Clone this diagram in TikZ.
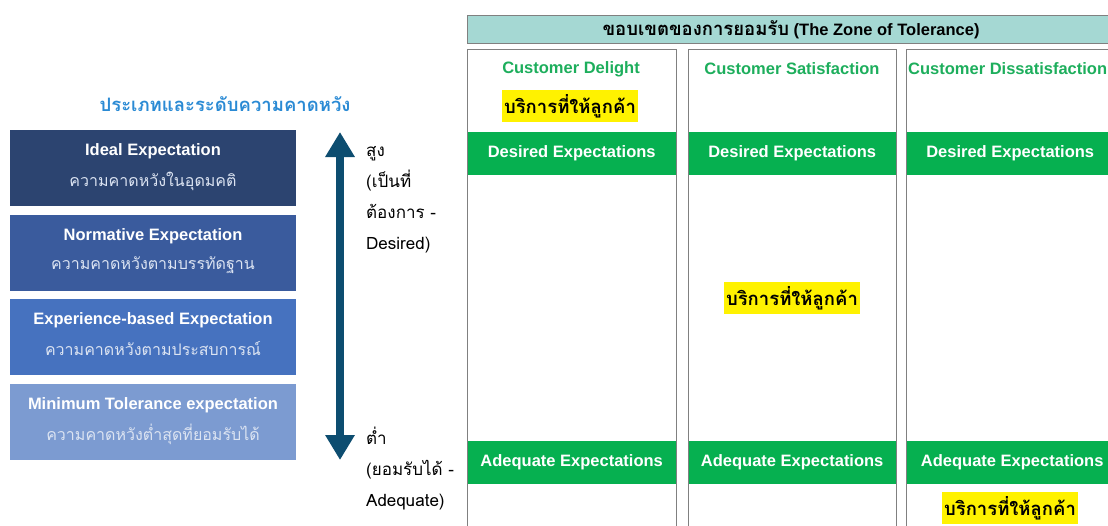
\documentclass[tikz,border=0pt]{standalone}
\usepackage{fontspec}
\setmainfont{Liberation Sans}
\newfontfamily\thai[Script=Thai]{Loma}
\usetikzlibrary{arrows.meta}
\definecolor{ttlblue}{HTML}{2A8AD4}
\definecolor{bxa}{HTML}{2C4470}
\definecolor{bxb}{HTML}{3A5B9D}
\definecolor{bxc}{HTML}{4672BF}
\definecolor{bxd}{HTML}{7C9BD1}
\definecolor{subtxt}{HTML}{DCE4F2}
\definecolor{arrowc}{HTML}{0D4D70}
\definecolor{hdrfill}{HTML}{A5D8D3}
\definecolor{gborder}{HTML}{808080}
\definecolor{gband}{HTML}{06B050}
\definecolor{ghead}{HTML}{1DAE5C}
\tikzset{
  lvbox/.style={minimum width=286pt, minimum height=76pt, inner sep=0pt, anchor=north west},
  lvhead/.style={font=\fontsize{16.5}{18}\selectfont\bfseries, text=white, inner sep=0pt},
  lvsub/.style={font=\thai\fontsize{16}{18}\selectfont, text=subtxt, inner sep=0pt},
  lvl/.style={font=\thai\fontsize{17}{31}\selectfont, align=left, anchor=base west, inner sep=0pt, text=black},
  colbox/.style={draw=gborder, line width=1.3pt, minimum width=#1, minimum height=500pt, inner sep=0pt, anchor=north west},
  band/.style={fill=gband, minimum width=#1, minimum height=43pt, inner sep=0pt, anchor=north west, text=white, font=\fontsize{16.5}{18}\selectfont\bfseries},
  colhead/.style={text=ghead, font=\fontsize{16.5}{18}\selectfont\bfseries, inner sep=0pt},
  svc/.style={fill=yellow, font=\thai\fontsize{18.5}{21}\selectfont\bfseries, inner xsep=2pt, inner ysep=4pt, text=black},
}
\begin{document}
\begin{tikzpicture}[x=1pt,y=-1pt]
\useasboundingbox (0,0) rectangle (1108,525);
\clip (0,0) rectangle (1108,525);
% left title
\node[font=\thai\fontsize{18.5}{21}\selectfont\bfseries, text=ttlblue, inner sep=0pt] (ttl) at (225,104) {ประเภทและระดับความคาดหวัง};
% left boxes
\node[lvbox, fill=bxa] (b1) at (10,130) {};
\node[lvbox, fill=bxb] (b2) at (10,215) {};
\node[lvbox, fill=bxc] (b3) at (10,299) {};
\node[lvbox, fill=bxd] (b4) at (10,384) {};
\node[lvhead] (b1h) at (153,151) {Ideal Expectation};
\node[lvsub]  (b1s) at (153,181) {ความคาดหวังในอุดมคติ};
\node[lvhead] (b2h) at (153,236) {Normative Expectation};
\node[lvsub]  (b2s) at (153,265) {ความคาดหวังตามบรรทัดฐาน};
\node[lvhead] (b3h) at (153,320) {Experience-based Expectation};
\node[lvsub]  (b3s) at (153,349) {ความคาดหวังตามประสบการณ์};
\node[lvhead] (b4h) at (153,405) {Minimum Tolerance expectation};
\node[lvsub]  (b4s) at (153,434) {ความคาดหวังต่ำสุดที่ยอมรับได้};
% arrow
\coordinate (atop) at (340,132);
\coordinate (abot) at (340,460);
\draw[arrowc, line width=7.5pt, {Triangle[width=28pt,length=25pt]}-{Triangle[width=28pt,length=25pt]}] (atop) -- (abot);
\node[lvl] (hi) at (366,249) {สูง\\(เป็นที่\\ต้องการ -\\Desired)};
\node[lvl] (lo) at (366,506) {ต่ำ\\(ยอมรับได้ -\\Adequate)};
% header bar
\node[draw=gborder, line width=1.3pt, fill=hdrfill, minimum width=660pt, minimum height=28pt, inner sep=0pt, anchor=north west] (hdr) at (467,15) {};
\node[font=\fontsize{16.5}{18}\selectfont\bfseries, inner sep=0pt] (hdrt) at (791,30) {{\thai\fontsize{18.5}{20}\selectfont ขอบเขตของการยอมรับ} (The Zone of Tolerance)};
% bands
\node[band=209pt] (d1) at (467,132) {Desired Expectations};
\node[band=208pt] (d2) at (688,132) {Desired Expectations};
\node[band=212pt] (d3) at (906,132) {\hspace*{-4pt}Desired Expectations};
\node[band=209pt] (a1) at (467,441) {Adequate Expectations};
\node[band=208pt] (a2) at (688,441) {Adequate Expectations};
\node[band=212pt] (a3) at (906,441) {Adequate Expectations};
% columns
\node[colbox=209pt] (c1) at (467,49) {};
\node[colbox=208pt] (c2) at (688,49) {};
\node[colbox=220pt] (c3) at (906,49) {};
\node[colhead] (h1) at (571,69) {Customer Delight};
\node[colhead] (h2) at (792,69) {Customer Satisfaction};
\node[colhead, anchor=west] (h3) at (908,69) {Customer Dissatisfaction};
% service highlights
\node[svc] (s1) at (570,106) {บริการที่ให้ลูกค้า};
\node[svc] (s2) at (792,298) {บริการที่ให้ลูกค้า};
\node[svc] (s3) at (1010,508) {บริการที่ให้ลูกค้า};
\end{tikzpicture}
\end{document}
